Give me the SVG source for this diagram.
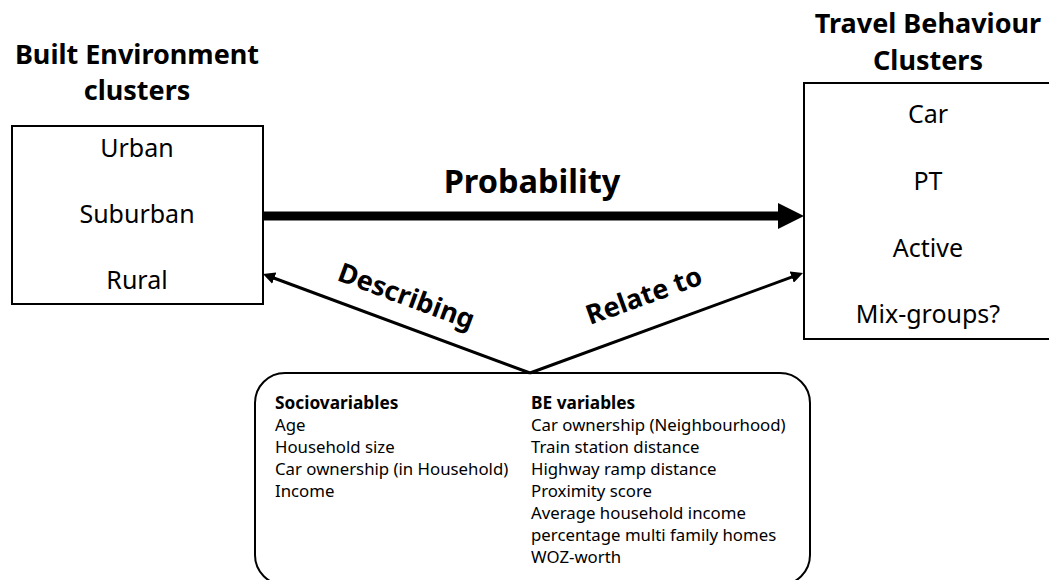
<svg xmlns="http://www.w3.org/2000/svg" width="1049" height="580" viewBox="0 0 1049 580">
<defs>
<style>
.t{font-family:"Noto Sans","Liberation Sans",sans-serif;fill:#000}
.title{font-size:27px;font-weight:bold;text-anchor:middle}
.item{font-size:25px;text-anchor:middle}
.lab{font-size:27px;font-weight:bold}
.var{font-size:16.8px}
.b{font-weight:bold;font-size:17.3px}
.box{fill:#fff;stroke:#000;stroke-width:2}
.con{stroke:#000;fill:none}
</style>
<marker id="bigHead" markerUnits="userSpaceOnUse" markerWidth="26" markerHeight="26" refX="4" refY="13" orient="auto" viewBox="0 0 26 26">
<path d="M0,0 L26,13 L0,26 z" fill="#000"/>
</marker>
<marker id="smallHead" markerUnits="userSpaceOnUse" markerWidth="12" markerHeight="12" refX="2" refY="6" orient="auto" viewBox="0 0 12 12">
<path d="M0,0 L12,6 L0,12 z" fill="#000"/>
</marker>
</defs>
<rect width="1049" height="580" fill="#fff"/>

<g id="be-clusters">
<text class="t title" x="137" y="64">Built Environment</text>
<text class="t title" x="137" y="100">clusters</text>
<rect class="box" x="12" y="126" width="251" height="178"/>
<text class="t item" x="137" y="157">Urban</text>
<text class="t item" x="137" y="223">Suburban</text>
<text class="t item" x="137" y="289">Rural</text>
</g>

<g id="tb-clusters">
<text class="t title" x="928" y="33">Travel Behaviour</text>
<text class="t title" x="928" y="70">Clusters</text>
<rect class="box" x="804" y="83" width="250" height="256"/>
<text class="t item" x="928" y="123">Car</text>
<text class="t item" x="928" y="190">PT</text>
<text class="t item" x="928" y="257">Active</text>
<text class="t item" x="928" y="323">Mix-groups?</text>
</g>

<g id="variables">
<rect class="box" x="255" y="373" width="555" height="212" rx="30" ry="30"/>
<text class="t var b" x="275" y="409">Sociovariables</text>
<text class="t var" x="275" y="431">Age</text>
<text class="t var" x="275" y="453">Household size</text>
<text class="t var" x="275" y="475">Car ownership (in Household)</text>
<text class="t var" x="275" y="497">Income</text>
<text class="t var b" x="531" y="409">BE variables</text>
<text class="t var" x="531" y="431">Car ownership (Neighbourhood)</text>
<text class="t var" x="531" y="453">Train station distance</text>
<text class="t var" x="531" y="475">Highway ramp distance</text>
<text class="t var" x="531" y="497">Proximity score</text>
<text class="t var" x="531" y="519">Average household income</text>
<text class="t var" x="531" y="541">percentage multi family homes</text>
<text class="t var" x="531" y="563">WOZ-worth</text>
</g>

<g id="connectors">
<line class="con" x1="263" y1="216" x2="782" y2="216" stroke-width="9" marker-end="url(#bigHead)"/>
<text class="t" x="532" y="193" font-size="32.5" font-weight="bold" text-anchor="middle">Probability</text>
<line class="con" x1="530" y1="373" x2="272.4" y2="277.5" stroke-width="3" marker-end="url(#smallHead)"/>
<line class="con" x1="530" y1="373" x2="793.6" y2="276.4" stroke-width="3" marker-end="url(#smallHead)"/>
<text class="t lab" transform="translate(336 280) rotate(20.3)">Describing</text>
<text class="t lab" transform="translate(590 325) rotate(-20)">Relate to</text>
</g>
</svg>
